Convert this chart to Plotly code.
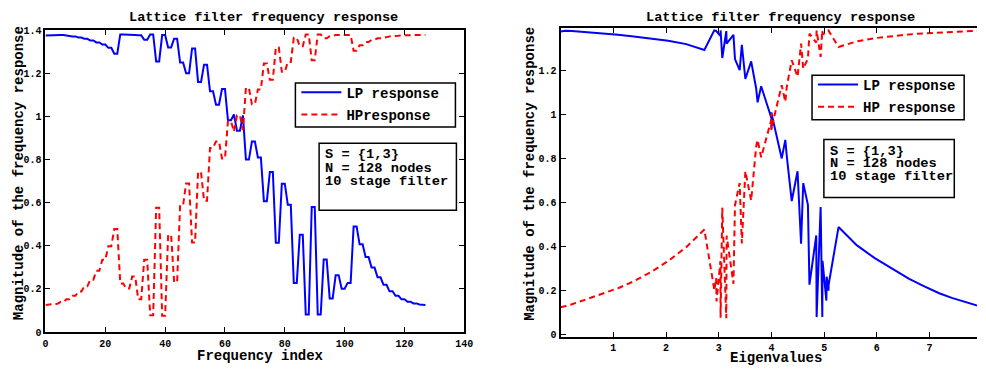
import plotly.graph_objects as go

# ---------------- data ----------------
INDEX = list(range(128))

LP = [1.375,
      1.376, 1.376, 1.378, 1.378, 1.377, 1.377, 1.374, 1.374, 1.371, 1.371,
      1.366, 1.366, 1.360, 1.360, 1.352, 1.352, 1.343, 1.343, 1.333, 1.333,
      1.318, 1.318, 1.291, 1.291, 1.380, 1.380, 1.380, 1.380, 1.378, 1.378,
      1.376, 1.376, 1.355, 1.355, 1.380, 1.380, 1.255, 1.255, 1.377, 1.377,
      1.320, 1.320, 1.360, 1.360, 1.250, 1.250, 1.200, 1.200, 1.315, 1.315,
      1.160, 1.160, 1.240, 1.240, 1.117, 1.117, 1.054, 1.054, 1.127, 1.127,
      0.982, 0.982, 1.009, 0.934, 0.934, 1.005,
      0.800, 0.800, 0.884, 0.884, 0.810, 0.810, 0.607, 0.607, 0.742, 0.742,
      0.414, 0.414, 0.688, 0.688, 0.590, 0.590, 0.228, 0.228, 0.451, 0.451,
      0.081, 0.081, 0.580, 0.580, 0.081, 0.081, 0.336, 0.336, 0.156, 0.156,
      0.264, 0.264, 0.201, 0.201, 0.228, 0.228, 0.489, 0.489, 0.407, 0.407,
      0.348, 0.348, 0.299, 0.299, 0.254, 0.254, 0.219, 0.219, 0.189, 0.189,
      0.168, 0.168, 0.152, 0.152, 0.141, 0.141, 0.133, 0.133, 0.128, 0.128,
      0.126]

HP = [0.126,
      0.127, 0.127, 0.131, 0.131, 0.139, 0.139, 0.152, 0.152, 0.168, 0.168,
      0.188, 0.188, 0.212, 0.212, 0.243, 0.243, 0.284, 0.284, 0.335, 0.335,
      0.398, 0.398, 0.478, 0.478, 0.225, 0.225, 0.202, 0.202, 0.258, 0.258,
      0.152, 0.152, 0.335, 0.335, 0.078, 0.078, 0.577, 0.577, 0.076, 0.076,
      0.450, 0.450, 0.232, 0.232, 0.588, 0.588, 0.689, 0.689, 0.415, 0.415,
      0.742, 0.742, 0.609, 0.609, 0.854, 0.854, 0.884, 0.884, 0.805, 0.805,
      0.978, 0.978, 0.929, 1.005, 1.005, 0.937,
      1.132, 1.132, 1.057, 1.057, 1.125, 1.125, 1.245, 1.245, 1.170, 1.170,
      1.320, 1.320, 1.207, 1.207, 1.252, 1.252, 1.365, 1.365, 1.325, 1.325,
      1.380, 1.380, 1.260, 1.260, 1.380, 1.380, 1.362, 1.362, 1.372, 1.372,
      1.378, 1.378, 1.380, 1.380, 1.378, 1.378, 1.305, 1.305, 1.330, 1.330,
      1.345, 1.345, 1.355, 1.355, 1.362, 1.362, 1.367, 1.367, 1.371, 1.371,
      1.374, 1.374, 1.376, 1.376, 1.377, 1.377, 1.378, 1.378, 1.378, 1.378,
      1.378]

EIG = [0.000,
       0.024, 0.024, 0.096, 0.096, 0.214, 0.214, 0.375, 0.375, 0.578, 0.578,
       0.817, 0.817, 1.089, 1.089, 1.387, 1.387, 1.706, 1.706, 2.040, 2.040,
       2.383, 2.383, 2.727, 2.727, 2.915, 2.915, 2.918, 2.918, 2.952, 2.952,
       2.958, 2.958, 3.031, 3.031, 3.035, 3.035, 3.067, 3.067, 3.143, 3.143,
       3.150, 3.150, 3.279, 3.279, 3.308, 3.308, 3.397, 3.397, 3.438, 3.438,
       3.505, 3.505, 3.615, 3.615, 3.710, 3.710, 3.737, 3.737, 3.805, 3.805,
       4.000, 4.000, 4.000, 4.000, 4.000, 4.000,
       4.195, 4.195, 4.263, 4.263, 4.291, 4.291, 4.385, 4.385, 4.495, 4.495,
       4.562, 4.562, 4.603, 4.603, 4.692, 4.692, 4.721, 4.721, 4.850, 4.850,
       4.857, 4.857, 4.933, 4.933, 4.965, 4.965, 4.969, 4.969, 5.042, 5.042,
       5.048, 5.048, 5.082, 5.082, 5.085, 5.085, 5.273, 5.273, 5.617, 5.617,
       5.960, 5.960, 6.294, 6.294, 6.613, 6.613, 6.911, 6.911, 7.183, 7.183,
       7.422, 7.422, 7.625, 7.625, 7.786, 7.786, 7.904, 7.904, 7.976, 7.976,
       8.000]

TITLE = "Lattice filter frequency response"
YLABEL = "Magnitude of the frequency response"
XLABEL_L = "Frequency index"
XLABEL_R = "Eigenvalues"
NAMES_L = ["LP response", "HPresponse"]
NAMES_R = ["LP response", "HP response"]
INFO = ["S = {1,3}", "N = 128 nodes", "10 stage filter"]

# ---------------- layout helpers ----------------
W, H = 986, 371
def px(x):
    return x / W
def py(y):
    return 1 - y / H

FONT = "Liberation Mono, Courier New, monospace"
BLUE = "#0000ff"
RED = "#ff0000"
DASH = "6px,4px"

fig = go.Figure()
fig.add_trace(go.Scatter(x=INDEX, y=LP, mode="lines", name=NAMES_L[0],
                         line=dict(color=BLUE, width=2), xaxis="x", yaxis="y",
                         legend="legend", legendgroup="a"))
fig.add_trace(go.Scatter(x=INDEX, y=HP, mode="lines", name=NAMES_L[1],
                         line=dict(color=RED, width=2, dash=DASH), xaxis="x", yaxis="y",
                         legend="legend", legendgroup="b"))
fig.add_trace(go.Scatter(x=EIG, y=LP, mode="lines", name=NAMES_R[0],
                         line=dict(color=BLUE, width=2), xaxis="x2", yaxis="y2",
                         legend="legend2", legendgroup="c"))
fig.add_trace(go.Scatter(x=EIG, y=HP, mode="lines", name=NAMES_R[1],
                         line=dict(color=RED, width=2, dash=DASH), xaxis="x2", yaxis="y2",
                         legend="legend2", legendgroup="d"))

tickfont = dict(family=FONT, size=10, color="black", weight="bold")
axcommon = dict(showline=True, linecolor="black", linewidth=2, ticks="inside",
                ticklen=5, tickwidth=1, tickcolor="black", showgrid=False,
                zeroline=False, tickfont=tickfont)

legfont = dict(family=FONT, size=14, color="black", weight="bold")
fig.update_layout(
    width=W, height=H, margin=dict(l=0, r=0, t=0, b=0),
    paper_bgcolor="white", plot_bgcolor="white",
    xaxis=dict(domain=[px(43), px(467)], range=[0, 140], tickvals=[0, 20, 40, 60, 80, 100, 120, 140],
               anchor="y", mirror="ticks", ticklabelstandoff=1, **axcommon),
    yaxis=dict(domain=[py(338), py(26)], range=[0, 1.4], tickvals=[0, 0.2, 0.4, 0.6, 0.8, 1, 1.2, 1.4],
               ticktext=["0", "0.2", "0.4", "0.6", "0.8", "1", "1.2", "1.4"],
               anchor="x", mirror="ticks", **axcommon),
    xaxis2=dict(domain=[px(564.5), 1.0], range=[0, 7.9], tickvals=[1, 2, 3, 4, 5, 6, 7],
                anchor="y2", mirror="ticks", ticklabelstandoff=0, **axcommon),
    yaxis2=dict(domain=[py(343.3), py(23.3)], range=[-0.01, 1.393],
                tickvals=[0, 0.2, 0.4, 0.6, 0.8, 1, 1.2],
                ticktext=["0", "0.2", "0.4", "0.6", "0.8", "1", "1.2"],
                anchor="x2", mirror=False, **axcommon),
    legend=dict(x=px(297), y=py(74), xanchor="left", yanchor="top",
                bgcolor="rgba(0,0,0,0)", borderwidth=0, font=legfont,
                tracegroupgap=1, itemwidth=40),
    legend2=dict(x=px(820), y=py(66), xanchor="left", yanchor="top",
                 bgcolor="rgba(0,0,0,0)", borderwidth=0, font=legfont,
                 tracegroupgap=1, itemwidth=40),
    showlegend=True,
)

txtfont = dict(family=FONT, size=14, color="black", weight="bold")
titlefont = dict(family=FONT, size=13.6, color="black", weight="bold")
infofont = dict(family=FONT, size=13.7, color="black", weight="bold")
ann = []
# titles
ann.append(dict(text=TITLE, x=px(264), y=py(12.5), xref="paper", yref="paper",
                showarrow=False, xanchor="center", yanchor="middle", font=titlefont))
ann.append(dict(text=TITLE, x=px(787), y=py(12.5), xref="paper", yref="paper",
                showarrow=False, xanchor="center", yanchor="middle", font=titlefont))
# x labels
ann.append(dict(text=XLABEL_L, x=px(260.5), y=py(362.5), xref="paper", yref="paper",
                showarrow=False, xanchor="center", yanchor="middle", font=txtfont,
                height=17, borderpad=0))
ann.append(dict(text=XLABEL_R, x=px(783), y=py(364), xref="paper", yref="paper",
                showarrow=False, xanchor="center", yanchor="middle", font=txtfont,
                height=17, borderpad=0))
# y labels
ann.append(dict(text=YLABEL, x=px(17), y=py(174), xref="paper", yref="paper", textangle=-90,
                showarrow=False, xanchor="center", yanchor="middle", font=txtfont))
ann.append(dict(text=YLABEL, x=px(534), y=py(175), xref="paper", yref="paper", textangle=-90,
                showarrow=False, xanchor="center", yanchor="middle", font=txtfont))
# info boxes text
for i, t in enumerate(INFO):
    ann.append(dict(text=t, x=px(325), y=py(155 + 13.5 * i), xref="paper", yref="paper",
                    showarrow=False, xanchor="left", yanchor="middle", font=infofont,
                    height=13, borderpad=0))
    ann.append(dict(text=t, x=px(836), y=py(151 + 13 * i), xref="paper", yref="paper",
                    showarrow=False, xanchor="left", yanchor="middle", font=infofont,
                    height=13, borderpad=0))

box = dict(color="black", width=1.5)
shapes = [
    # legend frames
    dict(type="rect", xref="paper", yref="paper", x0=px(296), x1=px(458), y0=py(126), y1=py(80.7),
         line=box, fillcolor="white", layer="above"),
    dict(type="rect", xref="paper", yref="paper", x0=px(819), x1=px(973), y0=py(118.7), y1=py(72.7),
         line=box, fillcolor="white", layer="above"),
    # info frames
    dict(type="rect", xref="paper", yref="paper", x0=px(320), x1=px(459), y0=py(212), y1=py(143),
         line=box, fillcolor="white", layer="above"),
    dict(type="rect", xref="paper", yref="paper", x0=px(831), x1=px(963), y0=py(199), y1=py(139),
         line=box, fillcolor="white", layer="above"),
]
fig.update_layout(annotations=ann, shapes=shapes)

fig.write_html("out.html", post_script="document.body.style.margin='0';")
